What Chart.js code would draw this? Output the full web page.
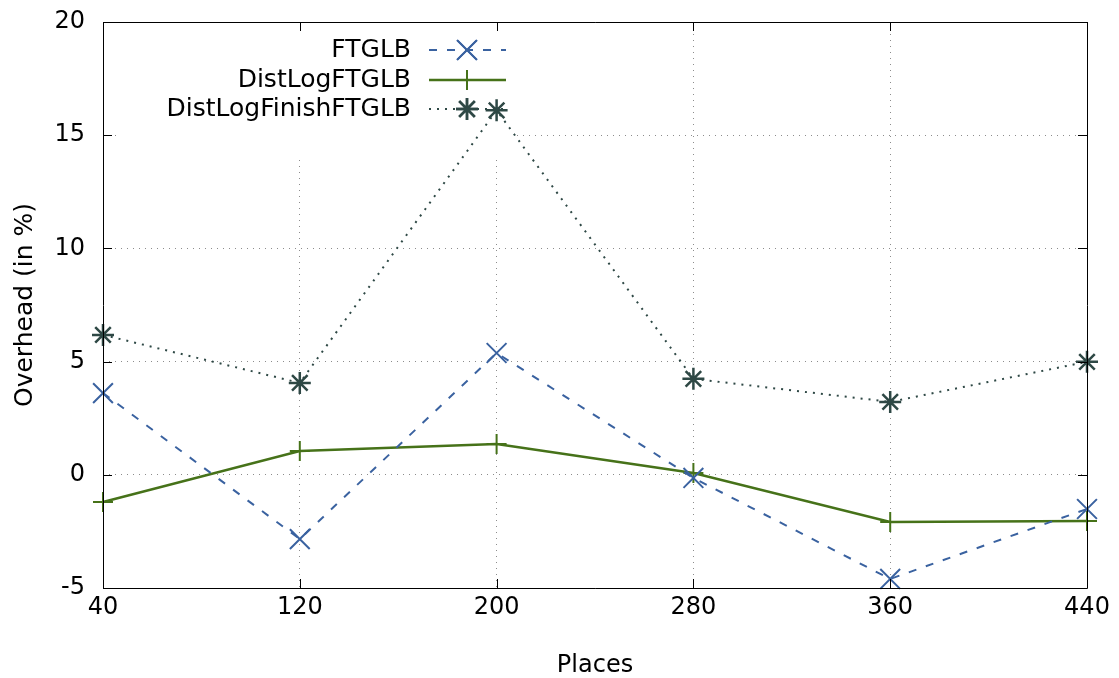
<!DOCTYPE html>
<html>
<head>
<meta charset="utf-8">
<script src="https://cdn.jsdelivr.net/npm/chart.js@4/dist/chart.umd.min.js"></script>
<style>
  html, body { margin: 0; padding: 0; background: #ffffff; }
  #wrap { width: 1119px; height: 678px; position: relative; }
</style>
</head>
<body>
<div id="wrap"><canvas id="c" width="1119" height="678"></canvas></div>
<script>
const places = [40, 120, 200, 280, 360, 440];
const ftglb = [3.61, -2.84, 5.38, -0.14, -4.6, -1.51];
const distLogFtglb = [-1.2, 1.05, 1.36, 0.08, -2.08, -2.04];
const distLogFinishFtglb = [6.18, 4.06, 16.1, 4.24, 3.22, 4.99];
const xTicks = [40, 120, 200, 280, 360, 440];
const yTicks = [-5, 0, 5, 10, 15, 20];
const seriesNames = ['FTGLB', 'DistLogFTGLB', 'DistLogFinishFTGLB'];

const FONT = 'DejaVu Sans';
const COLORS = ['#3a62a0', '#467219', '#2e4845'];

function pts(arr) { return places.map((x, i) => ({ x: x, y: arr[i] })); }

const datasets = [
  { label: seriesNames[0], data: pts(ftglb), borderColor: COLORS[0], backgroundColor: COLORS[0],
    borderWidth: 2, borderDash: [8, 10], pointStyle: 'crossRot', pointRadius: 14, pointBorderWidth: 2, clip: false },
  { label: seriesNames[1], data: pts(distLogFtglb), borderColor: COLORS[1], backgroundColor: COLORS[1],
    borderWidth: 2.5, pointStyle: 'cross', pointRadius: 10, pointBorderWidth: 2, clip: false },
  { label: seriesNames[2], data: pts(distLogFinishFtglb), borderColor: COLORS[2], backgroundColor: COLORS[2],
    borderWidth: 2, borderDash: [2, 6], pointStyle: 'star', pointRadius: 11, pointBorderWidth: 2.5, clip: false }
];

const gnuplotDecor = {
  id: 'gnuplotDecor',
  beforeDatasetsDraw(chart) {
    const ctx = chart.ctx;
    const a = chart.chartArea;
    // key background erases grid behind the legend
    ctx.save();
    ctx.fillStyle = '#ffffff';
    ctx.fillRect(117, a.top + 1, 397, 156 - a.top);
    ctx.restore();
  },
  afterDraw(chart) {
    const ctx = chart.ctx;
    const a = chart.chartArea;
    const xs = chart.scales.x, ys = chart.scales.y;
    ctx.save();
    ctx.strokeStyle = '#000000';
    ctx.lineWidth = 1;
    ctx.setLineDash([]);
    const T = 9;
    ctx.beginPath();
    xTicks.forEach(v => {
      const px = Math.round(xs.getPixelForValue(v)) + 0.5;
      ctx.moveTo(px, a.bottom); ctx.lineTo(px, a.bottom - T);
      ctx.moveTo(px, a.top); ctx.lineTo(px, a.top + T);
    });
    yTicks.forEach(v => {
      const py = Math.round(ys.getPixelForValue(v)) + 0.5;
      ctx.moveTo(a.left, py); ctx.lineTo(a.left + T, py);
      ctx.moveTo(a.right, py); ctx.lineTo(a.right - T, py);
    });
    ctx.stroke();
    ctx.beginPath();
    ctx.rect(Math.round(a.left) + 0.5, Math.round(a.top) + 0.5, Math.round(a.right - a.left), Math.round(a.bottom - a.top));
    ctx.stroke();

    // key
    const rowsY = [50, 80, 109];
    ctx.font = '25px "' + FONT + '"';
    ctx.textAlign = 'right';
    ctx.textBaseline = 'middle';
    chart.data.datasets.forEach((ds, i) => {
      const y = rowsY[i];
      ctx.fillStyle = '#000000';
      ctx.fillText(ds.label, 411, y);
      ctx.strokeStyle = ds.borderColor;
      ctx.lineWidth = ds.borderWidth;
      ctx.setLineDash(ds.borderDash || []);
      ctx.beginPath();
      ctx.moveTo(429, y); ctx.lineTo(506, y);
      ctx.stroke();
      ctx.setLineDash([]);
      ctx.lineWidth = ds.pointBorderWidth;
      Chart.helpers.drawPoint(ctx, { pointStyle: ds.pointStyle, radius: ds.pointRadius, borderWidth: ds.pointBorderWidth, rotation: 0 }, 467, y);
      ctx.stroke();
    });
    ctx.restore();
  }
};

new Chart(document.getElementById('c'), {
  type: 'line',
  data: { datasets: datasets },
  options: {
    responsive: false,
    animation: false,
    devicePixelRatio: 1,
    layout: { padding: { top: 22, right: 32, left: 0, bottom: 0 } },
    plugins: { legend: { display: false }, tooltip: { enabled: false } },
    scales: {
      x: {
        type: 'linear', min: 40, max: 440,
        afterFit(s) { s.height = 90; s.paddingLeft = 0; s.paddingRight = 0; },
        afterBuildTicks(s) { s.ticks = xTicks.map(v => ({ value: v })); },
        ticks: { color: '#000000', font: { family: FONT, size: 24 }, padding: 5, maxRotation: 0, autoSkip: false },
        grid: { color: '#8c8c8c', lineWidth: 1, drawTicks: false },
        border: { display: false, dash: [1, 5] },
        title: { display: true, text: 'Places', color: '#000000', font: { family: FONT, size: 24, lineHeight: 1 }, padding: { top: 0, bottom: 0 } }
      },
      y: {
        type: 'linear', min: -5, max: 20,
        afterFit(s) { s.width = 103; s.paddingTop = 0; s.paddingBottom = 0; },
        afterBuildTicks(s) { s.ticks = yTicks.map(v => ({ value: v })); },
        ticks: { color: '#000000', font: { family: FONT, size: 24 }, padding: 18, autoSkip: false },
        grid: { color: '#8c8c8c', lineWidth: 1, drawTicks: false },
        border: { display: false, dash: [1, 5] },
        title: { display: true, text: 'Overhead (in %)', color: '#000000', font: { family: FONT, size: 25, lineHeight: 1 }, padding: { top: 13, bottom: 4 } }
      }
    }
  },
  plugins: [gnuplotDecor]
});
</script>
</body>
</html>
